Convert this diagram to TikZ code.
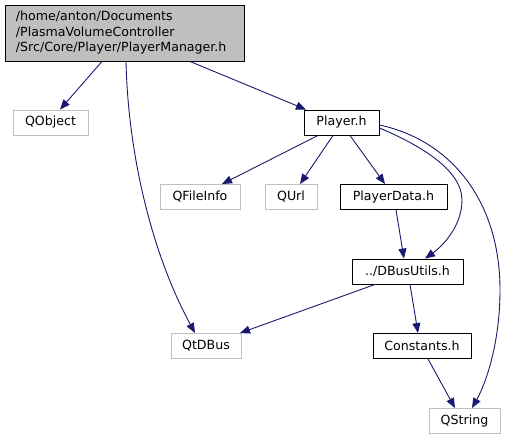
\documentclass[tikz,border=0pt]{standalone}
\usepackage{fontspec}
\setmainfont{DejaVu Sans}
\usetikzlibrary{arrows.meta}
\definecolor{edgecol}{HTML}{191970}
\definecolor{extgray}{HTML}{BFBFBF}
\tikzset{
  every node/.style={font=\fontsize{12.6}{15.5}\selectfont, inner sep=0pt, text=black},
  intbox/.style={draw=black, line width=0.9pt, fill=white, minimum height=25pt},
  extbox/.style={draw=extgray, line width=0.9pt, fill=white, minimum height=25pt},
  dep/.style={draw=edgecol, line width=0.9pt, -{Triangle[length=10pt,width=8pt]}}
}
\begin{document}
\begin{tikzpicture}[x=1pt,y=-1pt]
\useasboundingbox (0,0) rectangle (507,440);
\node[draw=black, line width=0.9pt, fill=extgray, minimum width=239pt, minimum height=56pt, text width=217pt, align=left] (main) at (124.5,33) {/home/anton/Documents\\/PlasmaVolumeController\\/Src/Core/Player/PlayerManager.h};
\node[extbox, minimum width=75pt] (qobject) at (50.5,122.5) {QObject};
\node[intbox, minimum width=75pt] (player) at (341.5,122.5) {Player.h};
\node[extbox, minimum width=80pt] (qfileinfo) at (200,197) {QFileInfo};
\node[extbox, minimum width=52pt] (qurl) at (291,197) {QUrl};
\node[intbox, minimum width=107pt] (playerdata) at (393.5,197) {PlayerData.h};
\node[intbox, minimum width=111pt] (dbusutils) at (407.5,271.5) {../DBusUtils.h};
\node[extbox, minimum width=70pt] (qtdbus) at (206,346) {QtDBus};
\node[intbox, minimum width=98pt] (constants) at (422,346) {Constants.h};
\node[extbox, minimum width=71pt] (qstring) at (464.5,421) {QString};

\draw[dep] (main.south -| 102,0) -- (qobject.north -| 60,0);
\draw[dep] (main.south -| 126,0) .. controls (128,150) and (150,250) .. (qtdbus.north -| 195,0);
\draw[dep] (main.south -| 190,0) -- (player.north -| 306,0);
\draw[dep] (player.south -| 318,0) -- (qfileinfo.north -| 222,0);
\draw[dep] (player.south -| 333,0) -- (qurl.north -| 300,0);
\draw[dep] (player.south -| 350,0) -- (playerdata.north -| 385,0);
\draw[dep] (player.east |- 0,128) .. controls (420,145) and (462,170) .. (462,200) .. controls (462,228) and (440,248) .. (dbusutils.north -| 425,0);
\draw[dep] (player.east |- 0,125) .. controls (450,140) and (500,200) .. (500,290) .. controls (500,345) and (485,385) .. (qstring.north -| 472,0);
\draw[dep] (playerdata.south -| 396,0) -- (dbusutils.north -| 404,0);
\draw[dep] (dbusutils.south -| 375,0) -- (qtdbus.north -| 240,0);
\draw[dep] (dbusutils.south -| 410,0) -- (constants.north -| 418,0);
\draw[dep] (constants.south -| 428,0) -- (qstring.north -| 455,0);
\end{tikzpicture}
\end{document}
